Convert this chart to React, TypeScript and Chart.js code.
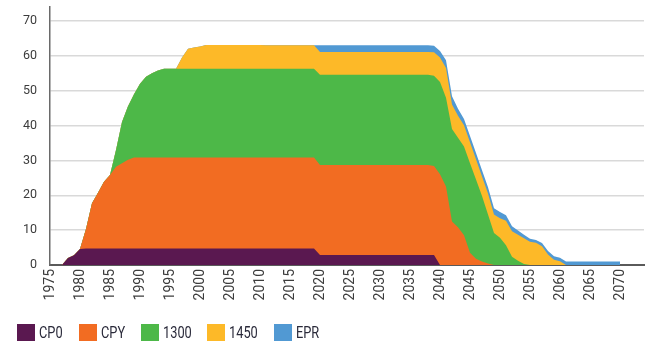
import { useEffect, useRef } from 'react';
import { Chart, registerables } from 'chart.js';

Chart.register(...registerables);

// Category labels (years)
const years: number[] = [
  1975, 1976, 1977, 1978, 1979, 1980, 1981, 1982, 1983, 1984,
  1985, 1986, 1987, 1988, 1989, 1990, 1991, 1992, 1993, 1994,
  1995, 1996, 1997, 1998, 1999, 2000, 2001, 2002, 2003, 2004,
  2005, 2006, 2007, 2008, 2009, 2010, 2011, 2012, 2013, 2014,
  2015, 2016, 2017, 2018, 2019, 2020, 2021, 2022, 2023, 2024,
  2025, 2026, 2027, 2028, 2029, 2030, 2031, 2032, 2033, 2034,
  2035, 2036, 2037, 2038, 2039, 2040, 2041, 2042, 2043, 2044,
  2045, 2046, 2047, 2048, 2049, 2050, 2051, 2052, 2053, 2054,
  2055, 2056, 2057, 2058, 2059, 2060, 2061, 2062, 2063, 2064,
  2065, 2066, 2067, 2068, 2069, 2070, 2071, 2072, 2073, 2074,
];

// Series values, 1975..2070 (one value per year)
const cp0: number[] = [
  0, 0, 0, 2.0, 2.8, 4.6, 4.7, 4.7, 4.7, 4.7,
  4.7, 4.7, 4.7, 4.7, 4.7, 4.7, 4.7, 4.7, 4.7, 4.7,
  4.7, 4.7, 4.7, 4.7, 4.7, 4.7, 4.7, 4.7, 4.7, 4.7,
  4.7, 4.7, 4.7, 4.7, 4.7, 4.7, 4.7, 4.7, 4.7, 4.7,
  4.7, 4.7, 4.7, 4.7, 4.7, 2.9, 2.9, 2.9, 2.9, 2.9,
  2.9, 2.9, 2.9, 2.9, 2.9, 2.9, 2.9, 2.9, 2.9, 2.9,
  2.9, 2.9, 2.9, 2.9, 2.9, 0, 0, 0, 0, 0,
  0, 0, 0, 0, 0, 0, 0, 0, 0, 0,
  0, 0, 0, 0, 0, 0, 0, 0, 0, 0,
  0, 0, 0, 0, 0, 0,
];

const cpy: number[] = [
  0, 0, 0, 0, 0, 0, 5.6, 13.0, 16.0, 19.2,
  21.1, 23.5, 24.5, 25.5, 26.1, 26.1, 26.1, 26.1, 26.1, 26.1,
  26.1, 26.1, 26.1, 26.1, 26.1, 26.1, 26.1, 26.1, 26.1, 26.1,
  26.1, 26.1, 26.1, 26.1, 26.1, 26.1, 26.1, 26.1, 26.1, 26.1,
  26.1, 26.1, 26.1, 26.1, 26.1, 25.8, 25.8, 25.8, 25.8, 25.8,
  25.8, 25.8, 25.8, 25.8, 25.8, 25.8, 25.8, 25.8, 25.8, 25.8,
  25.8, 25.8, 25.8, 25.8, 25.5, 26.0, 22.5, 12.5, 10.8, 8.5,
  3.5, 1.8, 1.0, 0.4, 0, 0, 0, 0, 0, 0,
  0, 0, 0, 0, 0, 0, 0, 0, 0, 0,
  0, 0, 0, 0, 0, 0,
];

const s1300: number[] = [
  0, 0, 0, 0, 0, 0, 0, 0, 0, 0,
  0, 4.8, 11.8, 15.3, 18.2, 21.2, 23.2, 24.2, 25.0, 25.5,
  25.5, 25.5, 25.5, 25.5, 25.5, 25.5, 25.5, 25.5, 25.5, 25.5,
  25.5, 25.5, 25.5, 25.5, 25.5, 25.5, 25.5, 25.5, 25.5, 25.5,
  25.5, 25.5, 25.5, 25.5, 25.5, 25.9, 25.9, 25.9, 25.9, 25.9,
  25.9, 25.9, 25.9, 25.9, 25.9, 25.9, 25.9, 25.9, 25.9, 25.9,
  25.9, 25.9, 25.9, 25.9, 25.9, 26.5, 25.5, 26.5, 25.7, 25.5,
  25.7, 22.7, 18.8, 14.1, 9.2, 7.8, 5.7, 2.4, 1.2, 0.3,
  0, 0, 0, 0, 0, 0, 0, 0, 0, 0,
  0, 0, 0, 0, 0, 0,
];

const s1450: number[] = [
  0, 0, 0, 0, 0, 0, 0, 0, 0, 0,
  0, 0, 0, 0, 0, 0, 0, 0, 0, 0,
  0, 0, 3.2, 5.7, 6.1, 6.4, 6.8, 6.8, 6.8, 6.8,
  6.8, 6.8, 6.8, 6.8, 6.8, 6.8, 6.7, 6.7, 6.7, 6.7,
  6.7, 6.7, 6.7, 6.7, 6.7, 6.5, 6.5, 6.5, 6.5, 6.5,
  6.5, 6.5, 6.5, 6.5, 6.5, 6.5, 6.5, 6.5, 6.5, 6.5,
  6.5, 6.5, 6.5, 6.5, 6.7, 7.0, 8.5, 7.0, 6.3, 6.1,
  6.0, 5.8, 5.6, 6.0, 5.3, 5.6, 7.0, 7.3, 7.5, 7.4,
  6.7, 6.4, 5.4, 3.0, 1.5, 1.1, 0, 0, 0, 0,
  0, 0, 0, 0, 0, 0,
];

const epr: number[] = [
  0, 0, 0, 0, 0, 0, 0, 0, 0, 0,
  0, 0, 0, 0, 0, 0, 0, 0, 0, 0,
  0, 0, 0, 0, 0, 0, 0, 0, 0, 0,
  0, 0, 0, 0, 0, 0, 0, 0, 0, 0,
  0, 0, 0, 0, 0, 1.9, 1.9, 1.9, 1.9, 1.9,
  1.9, 1.9, 1.9, 1.9, 1.9, 1.9, 1.9, 1.9, 1.9, 1.9,
  1.9, 1.9, 1.9, 1.9, 1.9, 1.9, 2.2, 2.4, 2.0, 1.8,
  1.8, 1.8, 1.8, 1.8, 1.8, 1.8, 1.6, 1.4, 1.2, 1.0,
  0.8, 0.8, 0.9, 1.0, 1.0, 1.0, 1.0, 1.0, 1.0, 1.0,
  1.0, 1.0, 1.0, 1.0, 1.0, 1.0,
];

const seriesNames: string[] = ['CP0', 'CPY', '1300', '1450', 'EPR'];
const seriesData: number[][] = [cp0, cpy, s1300, s1450, epr];
const seriesColors: string[] = ['#5A1850', '#F26C22', '#4DB848', '#FDB928', '#5199D3'];

const yTicks: number[] = [0, 10, 20, 30, 40, 50, 60, 70];

const AXIS_FONT = "Roboto, 'Liberation Sans', sans-serif";
const LEGEND_FONT = 'Roboto, sans-serif';
const LEGEND_SIZE = 16;
const LEGEND_SQUEEZE = 0.8;

function measure(text: string): number {
  const c = document.createElement('canvas').getContext('2d');
  if (!c) return text.length * 9;
  c.font = `${LEGEND_SIZE}px ${LEGEND_FONT}`;
  return c.measureText(text).width;
}

export default function App() {
  const canvasRef = useRef<HTMLCanvasElement | null>(null);

  useEffect(() => {
    const canvas = canvasRef.current;
    if (!canvas) return;
    const chart = new Chart(canvas, {
      type: 'line',
      data: {
        labels: years.map(String),
        datasets: seriesNames.map((name, i) => ({
          label: name,
          data: seriesData[i],
          backgroundColor: seriesColors[i],
          borderColor: seriesColors[i],
          borderWidth: 0,
          pointRadius: 0,
          pointHoverRadius: 0,
          fill: 'origin',
          tension: 0,
        })),
      },
      options: {
        responsive: true,
        maintainAspectRatio: false,
        animation: false,
        events: [],
        layout: { padding: { top: 7, right: 23, bottom: 0, left: 0 } },
        plugins: {
          legend: { display: false },
          tooltip: { enabled: false },
        },
        scales: {
          x: {
            type: 'category',
            grid: { display: false, drawTicks: false },
            border: { display: true, color: '#5a5a5a', width: 2 },
            ticks: {
              autoSkip: false,
              minRotation: 90,
              maxRotation: 90,
              padding: 4,
              color: '#3c3c3c',
              font: { family: AXIS_FONT, size: 14 },
              callback: (_v: any, index: number) => {
                const y = years[index];
                return y % 5 === 0 ? String(y) : null;
              },
            },
            afterFit: (s: any) => {
              s.height = 87;
              s.paddingLeft = 0;
              s.paddingRight = 0;
            },
          },
          y: {
            stacked: true,
            min: 0,
            max: 74,
            grid: { color: '#d9d9d9', lineWidth: 1.5, drawTicks: false },
            border: { display: true, color: '#6a6a6a', width: 1.5 },
            ticks: {
              stepSize: 10,
              padding: 13,
              color: '#3c3c3c',
              font: { family: AXIS_FONT, size: 12.5 },
            },
            afterBuildTicks: (s: any) => {
              s.ticks = yTicks.map((v) => ({ value: v }));
            },
            afterFit: (s: any) => {
              s.width = 50;
              s.paddingTop = 0;
              s.paddingBottom = 0;
            },
          },
        },
      },
    });
    return () => chart.destroy();
  }, []);

  return (
    <div style={{ position: 'fixed', left: 0, top: 0, width: 667, height: 352, background: '#fff' }}>
      <canvas ref={canvasRef} />
      <div
        style={{
          position: 'absolute',
          left: 17,
          top: 324,
          display: 'flex',
          alignItems: 'center',
          fontFamily: LEGEND_FONT,
          fontSize: LEGEND_SIZE,
          lineHeight: '17px',
          color: '#2a2a3a',
        }}
      >
        {seriesNames.map((name, i) => {
          const w = measure(name) * LEGEND_SQUEEZE;
          return (
            <div key={name} style={{ display: 'flex', alignItems: 'center', marginRight: 16 }}>
              <span
                style={{
                  display: 'inline-block',
                  width: 18,
                  height: 17,
                  background: seriesColors[i],
                  marginRight: 4,
                }}
              />
              <span style={{ display: 'inline-block', width: w, whiteSpace: 'nowrap' }}>
                <span
                  style={{
                    display: 'inline-block',
                    transform: `scaleX(${LEGEND_SQUEEZE})`,
                    transformOrigin: '0 50%',
                  }}
                >
                  {name}
                </span>
              </span>
            </div>
          );
        })}
      </div>
    </div>
  );
}
